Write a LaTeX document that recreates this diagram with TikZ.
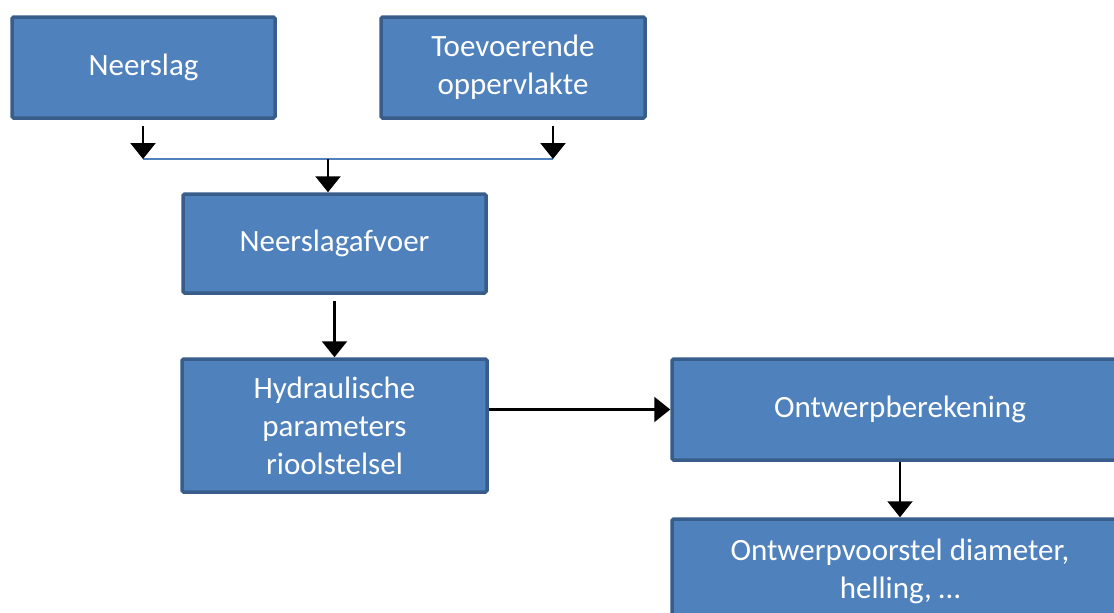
\documentclass[tikz,border=0pt]{standalone}
\usepackage{fontspec}
\setmainfont{Carlito}
\usetikzlibrary{arrows.meta}
\definecolor{boxfill}{HTML}{4F81BD}
\definecolor{boxline}{HTML}{385D8A}
\tikzstyle{process} = [rectangle, rounded corners=1.5pt, draw=boxline, line width=3.5pt, fill=boxfill, text=white, align=center, inner sep=0pt, font=\fontsize{31}{38}\selectfont]
\tikzstyle{arrow} = [line width=2.2pt, -{Triangle[width=25pt,length=16pt]}]
\tikzstyle{joinline} = [draw=boxfill, line width=1.3pt]

\begin{document}
\begin{tikzpicture}[x=1pt, y=-1pt]
      \useasboundingbox (0,0) rectangle (1114,613);
      \clip (0,0) rectangle (1114,613);
      \node (neerslag)[process, minimum width=263pt, minimum height=101pt] at (143.5,67.5) {Neerslag};
      \node (toevoer)[process, minimum width=264pt, minimum height=101pt] at (513,67.5) {Toevoerende\\oppervlakte};
      \node (afvoer)[process, minimum width=303pt, minimum height=99pt] at (334.5,243.5) {Neerslagafvoer};
      \node (hydr)[process, minimum width=305pt, minimum height=133pt] at (334.5,425.5) {Hydraulische\\parameters\\rioolstelsel};
      \node (ontw)[process, minimum width=456pt, minimum height=101pt] at (900,409.5) {Ontwerpberekening};
      \node (voorstel)[process, minimum width=456pt, minimum height=104pt] at (900,571) {Ontwerpvoorstel diameter,\\helling, \dots};
      % samenvoeging
      \coordinate (jl) at (143,159);
      \coordinate (jr) at (553,159);
      \coordinate (jm) at (328,159);
      \draw [joinline](jl) -- (jr);
      \draw [arrow](jl |- neerslag.south) ++(0,6) -- (jl);
      \draw [arrow](jr |- toevoer.south) ++(0,6) -- (jr);
      \draw [arrow](jm) -- (jm |- afvoer.north);
      \draw [arrow](afvoer.south) ++(0,6) -- (hydr.north);
      \draw [arrow](hydr.east |- ontw.west) -- (ontw.west);
      \draw [arrow](ontw.south) -- (voorstel.north);
    \end{tikzpicture}
\end{document}
